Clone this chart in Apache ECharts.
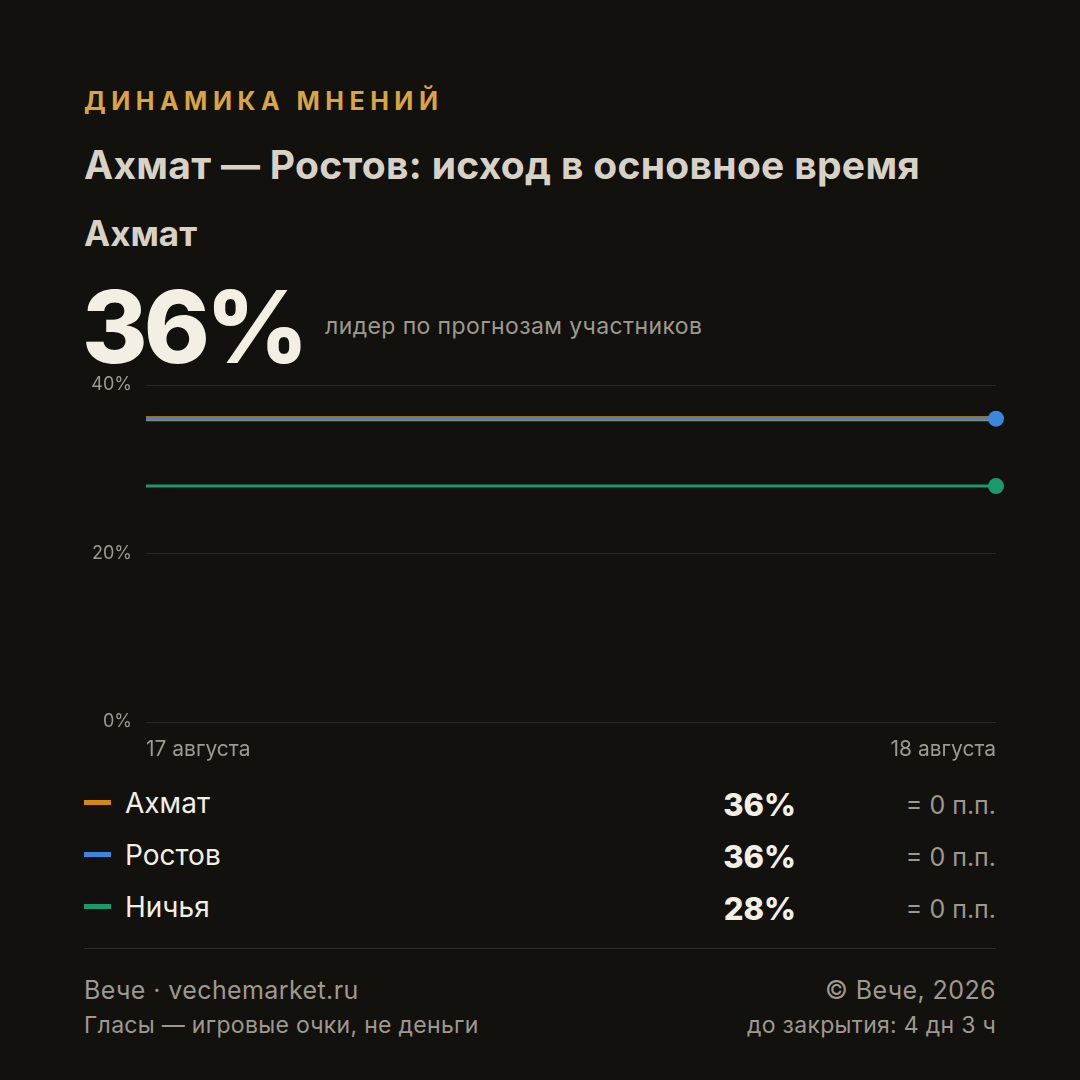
<!DOCTYPE html>
<html><head><meta charset="utf-8">
<script src="https://cdn.jsdelivr.net/npm/echarts@6/dist/echarts.min.js"></script>
<style>
body{margin:0;background:#12110e;width:1080px;height:1080px;overflow:hidden;font-family:Inter,"Noto Sans",sans-serif;}
.abs{position:absolute;}
</style></head><body>
<div class="abs" style="left:84px;top:86px;color:#d9a441;font-size:25px;font-weight:700;letter-spacing:5.5px;">ДИНАМИКА МНЕНИЙ</div>
<div class="abs" style="left:84px;top:141px;color:#d8d2c6;font-size:39px;font-weight:700;letter-spacing:0.3px;">Ахмат — Ростов: исход в основное время</div>
<div class="abs" style="left:84px;top:212px;color:#d8d2c6;font-size:35px;font-weight:700;">Ахмат</div>
<div class="abs" style="left:82px;top:266px;color:#f3efe4;font-size:100px;font-weight:800;letter-spacing:-4px;">36%</div>
<div class="abs" style="left:325px;top:312px;color:#9e998f;font-size:23px;letter-spacing:0.4px;">лидер по прогнозам участников</div>
<div id="c" class="abs" style="left:0;top:0;width:1080px;height:780px;"></div>
<div id="leg"></div>
<div class="abs" style="left:84px;top:948px;width:912px;height:1px;background:#2e2c28;"></div>
<div class="abs" style="left:84px;top:975px;color:#9e998f;font-size:25px;letter-spacing:0.4px;">Вече · vechemarket.ru</div>
<div class="abs" style="left:84px;top:1011px;color:#9e998f;font-size:23px;letter-spacing:0.3px;">Гласы — игровые очки, не деньги</div>
<div class="abs" style="right:84px;top:975px;color:#9e998f;font-size:25px;text-align:right;letter-spacing:0.4px;">© Вече, 2026</div>
<div class="abs" style="right:84px;top:1011px;color:#9e998f;font-size:23px;text-align:right;letter-spacing:0.3px;">до закрытия: 4 дн 3 ч</div>
<script>
const dates=['17 августа','18 августа'];
const names=['Ахмат','Ростов','Ничья'];
const colors=['#d4880f','#3b87e0','#1a9a6c'];
const akhmat=[36,36];
const rostov=[36,36];
const draw=[28,28];
const changes=['= 0 п.п.','= 0 п.п.','= 0 п.п.'];
const vals=[akhmat,rostov,draw];
const widths=[5,3.5,3];
const leg=document.getElementById('leg');
names.forEach((n,i)=>{
  const y=790+i*52;
  leg.innerHTML+=`<div class="abs" style="left:84px;top:${y+10}px;width:27px;height:5px;background:${colors[i]}"></div>
  <div class="abs" style="left:125px;top:${y-4}px;color:#f3efe4;font-size:28px;">${n}</div>
  <div class="abs" style="right:284px;top:${y-4}px;color:#f3efe4;font-size:31px;font-weight:800;">${vals[i][vals[i].length-1]}%</div>
  <div class="abs" style="right:84px;top:${y}px;color:#9e998f;font-size:25px;">${changes[i]}</div>`;
});
const ch=echarts.init(document.getElementById('c'));
ch.setOption({
  animation:false,
  grid:{left:146,right:84,top:385,bottom:58},
  xAxis:{type:'category',data:dates,boundaryGap:false,axisLine:{show:false},axisTick:{show:false},
    axisLabel:{color:'#9e998f',fontSize:21,margin:17,fontFamily:'Inter',alignMinLabel:'left',alignMaxLabel:'right'}},
  yAxis:{type:'value',min:0,max:40,interval:20,splitLine:{lineStyle:{color:'#2a2824'}},
    axisLabel:{color:'#9e998f',fontSize:18,formatter:'{value}%',margin:14,fontFamily:'Inter'}},
  series:names.map((n,i)=>({name:n,type:'line',data:vals[i],
    lineStyle:{color:colors[i],width:widths[i]},itemStyle:{color:colors[i]},
    symbol:'circle',symbolSize:(v,p)=>p.dataIndex===dates.length-1&&i>0?16:0,
    showSymbol:true}))
});
</script></body></html>
